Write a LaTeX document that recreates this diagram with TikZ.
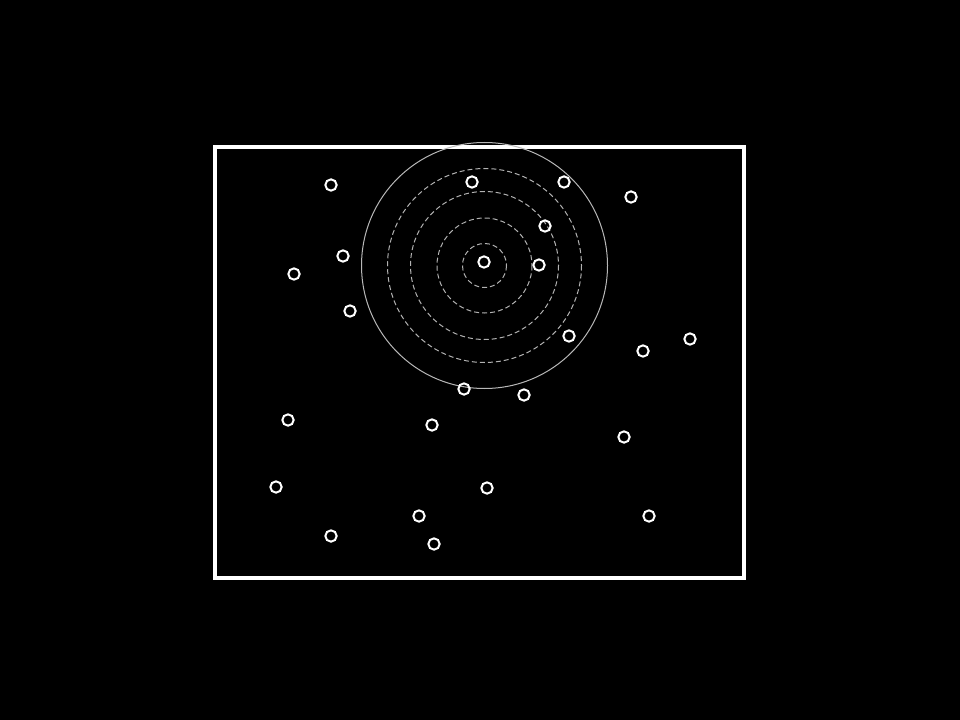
\documentclass[tikz,border=0pt]{standalone}
\usepackage{tikz}
\usetikzlibrary{positioning}

\begin{document}
\begin{tikzpicture}[x=0.75pt, y=-0.75pt,
    dot/.style={draw=white, line width=1.5pt, circle, inner sep=0pt, minimum size=8.5pt},
    ring/.style={draw=white!70!black, line width=0.75pt, dash pattern=on 3.75pt off 2.25pt}]
        \fill[black] (0,0) rectangle (960,720);
        \useasboundingbox (0,0) rectangle (960,720);
        \draw[white, line width=3pt] (215,147) rectangle (744,578);
        % rings round the centre point
        \coordinate (centre) at (484.5,265.5);
        \foreach \r in {22,47.5,74,97}
          \draw[ring] (centre) circle (\r);
        \draw[white!72!black, line width=0.75pt] (centre) circle (123);
        % the points
        \foreach \x/\y [count=\i] in {331/185, 472/182, 564/182, 631/197, 545/226, 343/256,
            294/274, 484/262, 539/265, 350/311, 569/336, 643/351, 690/339, 464/389,
            524/395, 288/420, 432/425, 624/437, 276/487, 487/488, 419/516, 649/516,
            331/536, 434/544}
          \node[dot] (p\i) at (\x,\y) {};
      \end{tikzpicture}
\end{document}
